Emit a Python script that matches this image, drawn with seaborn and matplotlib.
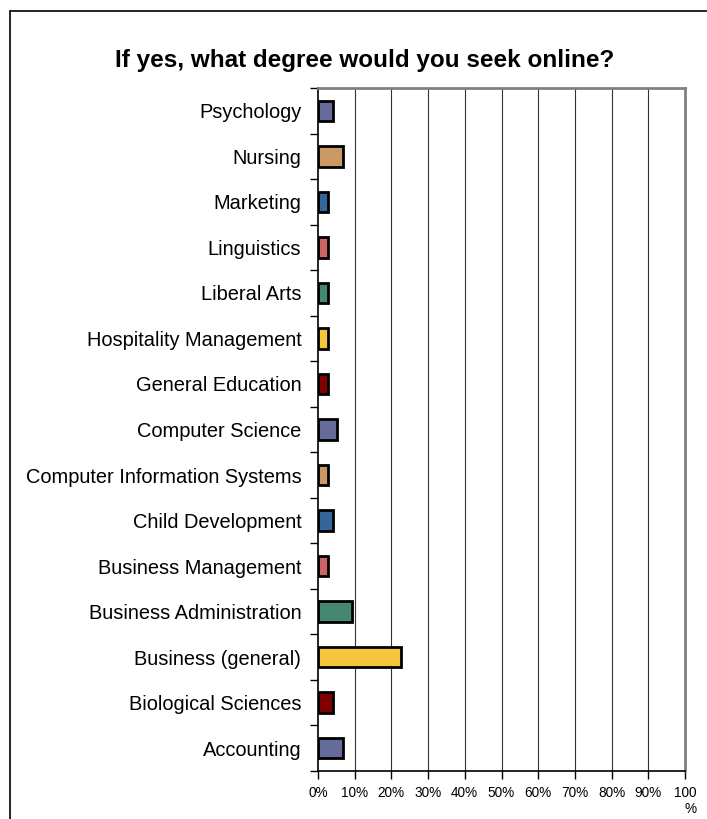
import numpy as np
import pandas as pd
import matplotlib
matplotlib.use("Agg")
import matplotlib.pyplot as plt
from matplotlib.lines import Line2D
from matplotlib.ticker import FixedLocator
import seaborn as sns

# survey answers, top row first
degrees = [
    "Psychology",
    "Nursing",
    "Marketing",
    "Linguistics",
    "Liberal Arts",
    "Hospitality Management",
    "General Education",
    "Computer Science",
    "Computer Information Systems",
    "Child Development",
    "Business Management",
    "Business Administration",
    "Business (general)",
    "Biological Sciences",
    "Accounting",
]
percent = [4.0, 6.7, 2.7, 2.7, 2.7, 2.7, 2.7, 5.3, 2.7, 4.0, 2.7, 9.3, 22.7, 4.0, 6.7]
bar_colors = [
    "#666c99", "#cc9966", "#336699", "#cc6666", "#468773", "#f5c63c", "#800000",
    "#666c99", "#cc9966", "#336699", "#cc6666", "#468773", "#f5c63c", "#800000",
    "#666c99",
]
x_ticks = [0, 10, 20, 30, 40, 50, 60, 70, 80, 90, 100]
x_labels = ["0%", "10%", "20%", "30%", "40%", "50%", "60%", "70%", "80%", "90%", "100\n%"]

sns.set_style("white")
plt.rcParams["font.family"] = ["Liberation Sans", "DejaVu Sans"]
plt.rcParams["text.color"] = "black"
plt.rcParams["xtick.color"] = "black"
plt.rcParams["ytick.color"] = "black"
plt.rcParams["axes.labelcolor"] = "black"

df = pd.DataFrame({"degree": degrees, "pct": percent})

fig = plt.figure(figsize=(7.07, 8.19), dpi=100)
ax = fig.add_axes([318 / 707, 1 - 771 / 819, (685 - 318) / 707, (771 - 88) / 819])

sns.barplot(
    data=df,
    x="pct",
    y="degree",
    hue="degree",
    palette=bar_colors,
    saturation=1,
    orient="h",
    width=0.45,
    edgecolor="black",
    linewidth=2,
    legend=False,
    ax=ax,
    zorder=3,
)

ax.set_xlim(0, 100)
ax.set_ylim(len(degrees) - 0.5, -0.5)
ax.set_xticks(x_ticks)
ax.set_xticklabels(x_labels, fontsize=9.8, multialignment="right")
for v in x_ticks[1:-1]:
    ax.axvline(v, color="#333333", linewidth=0.8, zorder=1)

ax.tick_params(axis="y", which="major", left=False, length=0, labelsize=14.4, pad=12,
               labelcolor="black")
ax.yaxis.set_minor_locator(FixedLocator(np.arange(-0.5, len(degrees), 1.0)))
ax.tick_params(axis="y", which="minor", left=True, length=6, width=1, color="black",
               direction="out")
ax.tick_params(axis="x", which="major", bottom=True, length=6, width=1, color="black",
               direction="out", pad=5, labelcolor="black")
ax.set_xlabel("")
ax.set_ylabel("")

ax.spines["left"].set_color("black")
ax.spines["left"].set_linewidth(1.2)
ax.spines["bottom"].set_color("black")
ax.spines["bottom"].set_linewidth(1.2)
for side in ["top", "right"]:
    ax.spines[side].set_color("#808080")
    ax.spines[side].set_linewidth(2)

fig.text(365 / 707, 1 - 60 / 819, "If yes, what degree would you seek online?",
         ha="center", va="center", fontsize=17.5, fontweight="bold", color="black")

# outer chart frame (top and left edges only visible)
fy = 1 - 11 / 819
fx = 10 / 707
fig.add_artist(Line2D([fx, 1.0], [fy, fy], transform=fig.transFigure, color="black", linewidth=1.2))
fig.add_artist(Line2D([fx, fx], [0.0, fy], transform=fig.transFigure, color="black", linewidth=1.2))

fig.savefig("out.png", dpi=100)
